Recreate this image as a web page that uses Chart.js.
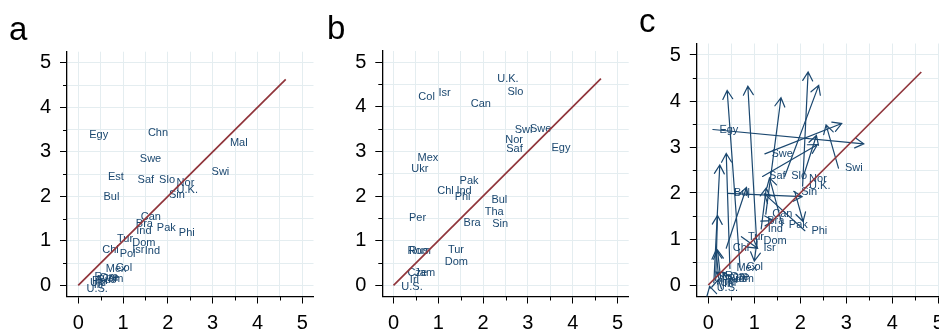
<!DOCTYPE html>
<html>
<head>
<meta charset="utf-8">
<script src="https://cdn.jsdelivr.net/npm/chart.js@4.4.1/dist/chart.umd.min.js"></script>
<style>
  html, body { margin: 0; padding: 0; background: #fff; overflow: hidden; }
  #wrap { position: relative; width: 939px; height: 330px; overflow: hidden; background: #fff; }
  #wrap canvas { position: absolute; top: 0; }
  .tag { position: absolute; font-family: 'Liberation Sans', Arial, Helvetica, sans-serif;
         font-size: 33px; line-height: 1; color: #000; }
</style>
</head>
<body>
<div id="wrap">
  <canvas id="pa" width="330" height="330" style="left:0px"></canvas>
  <canvas id="pb" width="330" height="330" style="left:315px"></canvas>
  <canvas id="pc" width="330" height="330" style="left:628px"></canvas>
  <div class="tag" style="left:9px;top:12px">a</div>
  <div class="tag" style="left:327px;top:11px">b</div>
  <div class="tag" style="left:639px;top:4px">c</div>
</div>
<script>
// Panel a: country positions, first measure
const codesA = ['Egy','Chn','Mal','Swe','Swi','Est','Saf','Slo','Nor','U.K.','Sin','Bul',
                'Can','Bra','Ind','Pak','Phi','Tur','Dom','Chl','Pol','Isr','Ind','Col','Mex',
                'Jam','Cze','Rus','Rom','Per','Irl','Ukr','U.S.'];
const xA = [0.10,1.41,3.24,1.23,2.83,0.52,1.18,1.66,2.05,2.05,1.88,0.42,
            1.25,1.14,1.15,1.61,2.10,0.72,1.06,0.39,0.78,1.06,1.34,0.69,0.47,
            0.40,0.33,0.27,0.22,0.16,0.20,0.12,0.04];
const yA = [3.38,3.42,3.21,2.85,2.54,2.43,2.36,2.36,2.31,2.15,2.03,1.99,
            1.54,1.39,1.22,1.30,1.18,1.05,0.96,0.80,0.70,0.80,0.77,0.39,0.36,
            0.14,0.17,0.13,0.20,0.10,0.02,0.05,-0.07];

// Panel b: country positions, second measure
const codesB = ['U.K.','Col','Isr','Slo','Can','Swi','Swe','Nor','Saf','Egy','Mex','Ukr',
                'Pak','Chl','Ind','Phi','Bul','Tha','Sin','Bra','Per','Rom','Rus','Tur','Dom',
                'Cze','Jam','Irl','U.S.'];
const xB = [2.17,0.41,0.86,2.40,1.58,2.56,2.90,2.35,2.37,3.38,0.39,0.25,
            1.33,0.83,1.26,1.22,2.04,1.89,2.06,1.42,0.20,0.17,0.20,1.07,1.00,
            0.17,0.32,0.22,0.03];
const yB = [4.63,4.23,4.32,4.34,4.07,3.48,3.51,3.25,3.05,3.07,2.86,2.61,
            2.33,2.12,2.11,1.98,1.92,1.64,1.38,1.40,1.51,0.76,0.76,0.80,0.52,
            0.28,0.28,0.12,-0.03];

// 45-degree reference line end
const diagEnd = 4.63;
const tickValues = [0,0.5,1,1.5,2,2.5,3,3.5,4,4.5,5];

const FONT = "'Liberation Sans', Arial, Helvetica, sans-serif";
const NAVY = '#1a476f';
const MAROON = '#90353b';
const GRID = '#e4edf0';

function pts(xs, ys) { return xs.map((x, i) => ({ x: x, y: ys[i] })); }

// Panel c: arrows from the first to the second position for countries in both
const arrowsC = [];
const usedB = new Set();
codesA.forEach((c, i) => {
  const j = codesB.findIndex((b, k) => b === c && !usedB.has(k));
  if (j >= 0 && !arrowsC.some(a => a.code === c)) {
    usedB.add(j);
    arrowsC.push({ code: c, x0: xA[i], y0: yA[i], x1: xB[j], y1: yB[j] });
  }
});
const codesC = arrowsC.map(a => a.code);
const xC = arrowsC.map(a => a.x0);
const yC = arrowsC.map(a => a.y0);

function axisCfg(horizontal, size) {
  return {
    type: 'linear',
    position: horizontal ? 'bottom' : 'left',
    min: -0.25, max: 5.25,
    afterBuildTicks: s => { s.ticks = tickValues.map(v => ({ value: v })); },
    afterFit: s => { if (horizontal) s.height = size; else s.width = size; },
    ticks: {
      autoSkip: false, maxRotation: 0, minRotation: 0,
      padding: horizontal ? 8 : 9,
      color: '#000',
      font: { family: FONT, size: 20 },
      callback: v => Number.isInteger(v) ? String(v) : ''
    },
    grid: {
      color: GRID, lineWidth: 1,
      drawTicks: true, tickLength: 7, tickWidth: 1,
      tickColor: ctx => (ctx.tick && Number.isInteger(ctx.tick.value)) ? '#000' : 'rgba(0,0,0,0)'
    },
    border: { display: true, color: '#000', width: 1.3 }
  };
}

const panelPlugin = {
  id: 'panelPlugin',
  beforeDatasetsDraw(chart, args, opts) {
    const ctx = chart.ctx;
    const meta = chart.getDatasetMeta(1);
    const labels = opts.labels || [];
    ctx.save();
    ctx.font = '11px ' + FONT;
    ctx.fillStyle = NAVY;
    ctx.textAlign = 'left';
    ctx.textBaseline = 'middle';
    meta.data.forEach((el, i) => { ctx.fillText(labels[i], el.x + 6.5, el.y); });
    ctx.restore();

    const arrows = opts.arrows || [];
    if (arrows.length) {
      const sx = chart.scales.x, sy = chart.scales.y;
      ctx.save();
      ctx.strokeStyle = NAVY;
      ctx.lineWidth = 1.2;
      ctx.lineCap = 'round';
      arrows.forEach(a => {
        const px0 = sx.getPixelForValue(a.x0), py0 = sy.getPixelForValue(a.y0);
        const px1 = sx.getPixelForValue(a.x1), py1 = sy.getPixelForValue(a.y1);
        const ang = Math.atan2(py1 - py0, px1 - px0);
        const L = 10, half = 0.52;
        ctx.beginPath();
        ctx.moveTo(px0, py0); ctx.lineTo(px1, py1);
        ctx.moveTo(px1 - L * Math.cos(ang - half), py1 - L * Math.sin(ang - half));
        ctx.lineTo(px1, py1);
        ctx.lineTo(px1 - L * Math.cos(ang + half), py1 - L * Math.sin(ang + half));
        ctx.stroke();
      });
      ctx.restore();
    }
  },
  afterDraw(chart) {
    // short minor ticks at the half units
    const ctx = chart.ctx;
    const sx = chart.scales.x, sy = chart.scales.y;
    const area = chart.chartArea;
    ctx.save();
    ctx.strokeStyle = '#000';
    ctx.lineWidth = 1;
    tickValues.filter(v => !Number.isInteger(v)).forEach(v => {
      const px = Math.round(sx.getPixelForValue(v)) + 0.5;
      const py = Math.round(sy.getPixelForValue(v)) + 0.5;
      ctx.beginPath();
      ctx.moveTo(px, area.bottom); ctx.lineTo(px, area.bottom + 4);
      ctx.moveTo(area.left, py); ctx.lineTo(area.left - 4, py);
      ctx.stroke();
    });
    ctx.restore();
  }
};

function makePanel(id, cfg) {
  return new Chart(document.getElementById(id), {
    type: 'scatter',
    data: {
      datasets: [
        { type: 'line', data: [{ x: 0, y: 0 }, { x: diagEnd, y: diagEnd }],
          borderColor: MAROON, borderWidth: 1.7, pointRadius: 0, fill: false, order: 0 },
        { data: pts(cfg.xs, cfg.ys), pointRadius: 0, pointHoverRadius: 0,
          backgroundColor: 'rgba(0,0,0,0)', borderColor: 'rgba(0,0,0,0)', order: 1 }
      ]
    },
    options: {
      responsive: false,
      animation: false,
      events: [],
      devicePixelRatio: 1,
      layout: { padding: { top: cfg.top, right: cfg.right, left: 0, bottom: 0 } },
      scales: {
        x: axisCfg(true, 33.5),
        y: axisCfg(false, cfg.yw)
      },
      plugins: {
        legend: { display: false },
        tooltip: { enabled: false },
        panelPlugin: { labels: cfg.labels, arrows: cfg.arrows || [] }
      }
    },
    plugins: [panelPlugin]
  });
}

makePanel('pa', { xs: xA, ys: yA, labels: codesA, top: 51.7, right: 16.5, yw: 67 });
makePanel('pb', { xs: xB, ys: yB, labels: codesB, top: 51, right: 16.3, yw: 67.3 });
makePanel('pc', { xs: xC, ys: yC, labels: codesC, arrows: arrowsC, top: 43.5, right: 8.2, yw: 68.8 });
</script>
</body>
</html>
